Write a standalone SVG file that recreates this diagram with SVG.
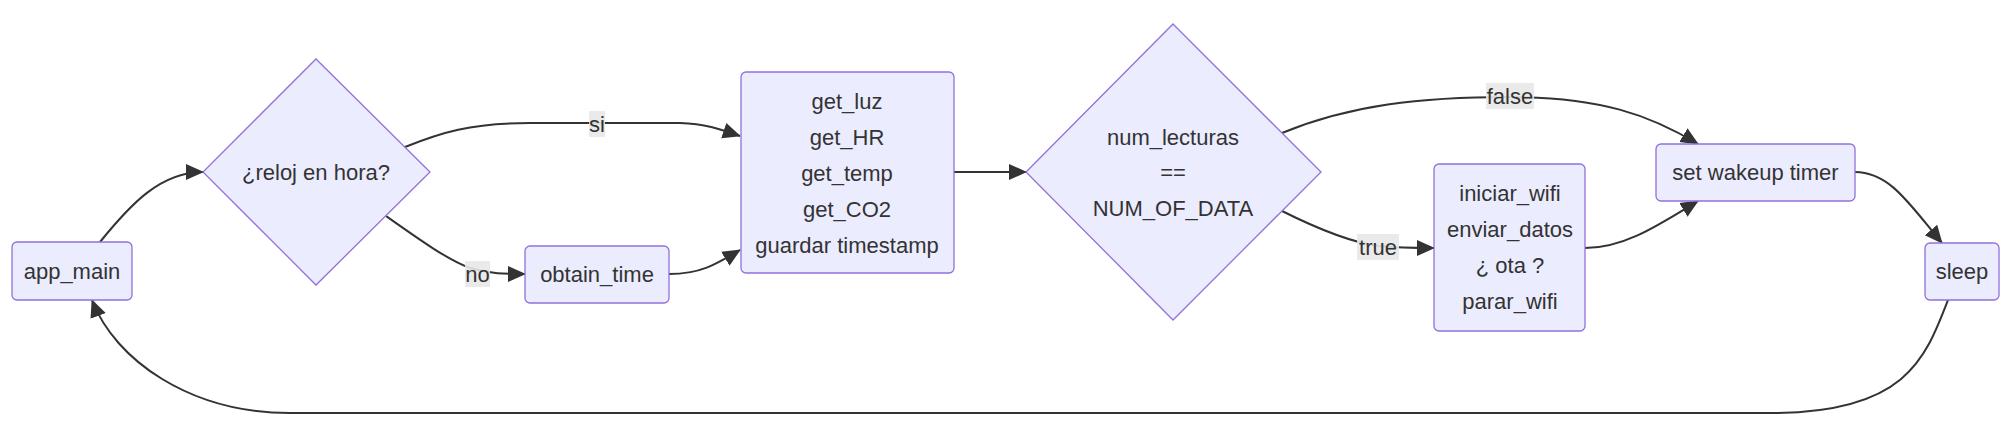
<svg xmlns="http://www.w3.org/2000/svg" width="2013" height="431" viewBox="0 0 2013 431">
<style>
  .node rect, .node polygon { fill: #ECECFF; stroke: #9370DB; stroke-width: 1.3; }
  .node text, .label text { font-family: "Liberation Sans", Arial, sans-serif; font-size: 22px; fill: #333333; text-anchor: middle; dominant-baseline: central; }
  .edge { fill: none; stroke: #333333; stroke-width: 2; marker-end: url(#arrow); }
  .label rect { fill: #e8e8e8; opacity: 0.9; }
</style>
<defs>
  <marker id="arrow" viewBox="0 0 10 10" refX="9.5" refY="5" markerUnits="userSpaceOnUse" markerWidth="18" markerHeight="18" orient="auto">
    <path d="M0,0.5 L10,5 L0,9.5 z" fill="#333333"/>
  </marker>
</defs>
<rect width="2013" height="431" fill="#ffffff"/>
<g id="connectors">
  <path class="edge" d="M100,242 C130,205 160,172 203,172"/>
  <path class="edge" d="M405,147 C440,133 470,123 530,123 L680,123 C710,124 725,131 740,136"/>
  <path class="edge" d="M386,216 C420,240 448,260 470,268 C490,274 505,274 525,274"/>
  <path class="edge" d="M669,274 C700,274 715,265 740,250"/>
  <path class="edge" d="M954,172 L1026,172"/>
  <path class="edge" d="M1282,133 C1350,105 1420,97 1510,97 C1600,97 1650,115 1698,144"/>
  <path class="edge" d="M1282,211 C1320,230 1350,242 1378,246 C1400,248 1420,248 1434,248"/>
  <path class="edge" d="M1585,248 C1625,248 1660,224 1698,201"/>
  <path class="edge" d="M1855,172 C1890,172 1910,205 1942,243"/>
  <path class="edge" d="M1948,300 C1925,360 1905,413 1770,413 L290,413 C190,413 115,360 92,300"/>
</g>
<g id="edge-labels">
  <g class="label"><rect x="589" y="111" width="16" height="26"/><text x="597" y="124">si</text></g>
  <g class="label"><rect x="465" y="261" width="25" height="26"/><text x="477.5" y="274">no</text></g>
  <g class="label"><rect x="1486" y="83" width="48" height="26"/><text x="1510" y="96">false</text></g>
  <g class="label"><rect x="1357" y="234" width="42" height="26"/><text x="1378" y="247">true</text></g>
</g>
<g id="app_main" class="node">
  <rect x="12" y="242" width="120" height="58" rx="5" ry="5"/>
  <text x="72" y="271">app_main</text>
</g>
<g id="reloj" class="node">
  <polygon points="316,59 430,172 316,285 203,172"/>
  <text x="316" y="172">¿reloj en hora?</text>
</g>
<g id="obtain_time" class="node">
  <rect x="525" y="246" width="144" height="57" rx="5" ry="5"/>
  <text x="597" y="274.5">obtain_time</text>
</g>
<g id="sensores" class="node">
  <rect x="741" y="72" width="213" height="201" rx="5" ry="5"/>
  <text x="847" y="101">get_luz</text>
  <text x="847" y="137">get_HR</text>
  <text x="847" y="173">get_temp</text>
  <text x="847" y="209">get_CO2</text>
  <text x="847" y="245">guardar timestamp</text>
</g>
<g id="num_lecturas" class="node">
  <polygon points="1173,24 1321,172 1173,320 1026,172"/>
  <text x="1173" y="137">num_lecturas</text>
  <text x="1173" y="172">==</text>
  <text x="1173" y="208">NUM_OF_DATA</text>
</g>
<g id="wifi" class="node">
  <rect x="1434" y="164" width="151" height="167" rx="5" ry="5"/>
  <text x="1510" y="193.5">iniciar_wifi</text>
  <text x="1510" y="229.5">enviar_datos</text>
  <text x="1510" y="265.5">¿ ota ?</text>
  <text x="1510" y="301.5">parar_wifi</text>
</g>
<g id="set_wakeup_timer" class="node">
  <rect x="1656" y="144" width="199" height="57" rx="5" ry="5"/>
  <text x="1755.5" y="172.5">set wakeup timer</text>
</g>
<g id="sleep" class="node">
  <rect x="1925" y="243" width="74" height="57" rx="5" ry="5"/>
  <text x="1962" y="271.5">sleep</text>
</g>
</svg>
